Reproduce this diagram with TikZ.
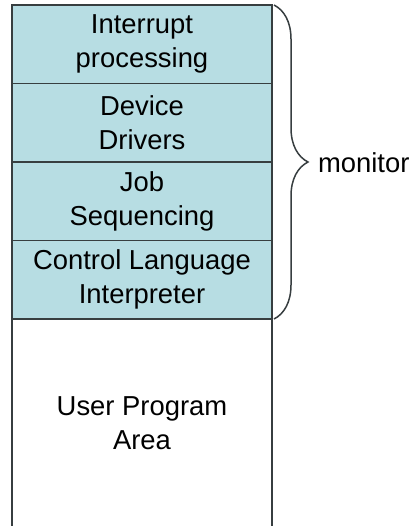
\documentclass[tikz,border=0pt]{standalone}
\usepackage{fontspec}
\setmainfont{Liberation Sans}
\usepackage{tikz}
\usetikzlibrary{positioning,decorations.pathreplacing}
\definecolor{monfill}{RGB}{183,221,227}
\definecolor{edgegray}{RGB}{55,62,64}

\begin{document}
\begin{tikzpicture}[x=0.5pt,y=-0.5pt,
	layer/.style={draw=edgegray, line width=0.75pt, fill=monfill, outer sep=0pt, inner sep=0pt,
		minimum width=130pt, minimum height=39.25pt, align=center,
		font=\fontsize{13.7}{17}\selectfont}]
	\useasboundingbox (0,0) rectangle (409,526);
	\node[layer, anchor=north west] (intr) at (12,5) {Interrupt\\processing};
	\node[layer, below=0pt of intr] (drv) {Device\\Drivers};
	\node[layer, below=0pt of drv] (seq) {Job\\Sequencing};
	\node[layer, below=0pt of seq] (ctl) {Control Language\\Interpreter};
	\node[layer, draw=none, fill=none, minimum height=104pt, below=0pt of ctl] (user) {User Program\\Area};
	\draw[edgegray, line width=0.75pt] (user.north west) -- (user.south west) (user.north east) -- (user.south east);
	\draw[edgegray, line width=0.75pt, decorate, decoration={brace, amplitude=17pt}] ([xshift=1pt]intr.north east) -- ([xshift=1pt]ctl.south east);
	\node[anchor=west, font=\fontsize{13.7}{17}\selectfont] (mon) at (311,163) {monitor};
\end{tikzpicture}
\end{document}
